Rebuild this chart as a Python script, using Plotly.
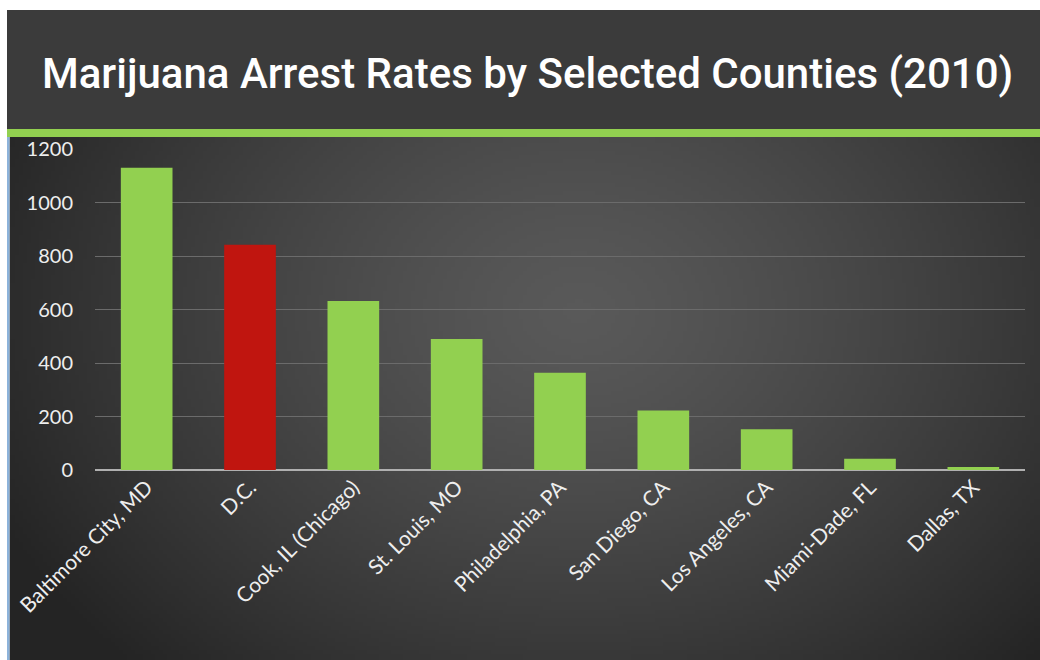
import base64, struct, zlib, math
import plotly.graph_objects as go

# ---- data ----
counties = ["Baltimore City, MD", "D.C.", "Cook, IL (Chicago)", "St. Louis, MO",
            "Philadelphia, PA", "San Diego, CA", "Los Angeles, CA", "Miami-Dade, FL", "Dallas, TX"]
arrest_rates = [1130, 842, 632, 490, 364, 222, 152, 42, 11]
highlight = "D.C."
y_ticks = [0, 200, 400, 600, 800, 1000, 1200]

GREEN = "#92d050"
RED = "#c0150f"
W, H = 1040, 660


def make_png(w, h):
    cx, cy = 0.55 * w, 0.33 * h
    rows = []
    for j in range(h):
        row = bytearray([0])
        for i in range(w):
            d = math.sqrt(((i - cx) / (0.62 * w)) ** 2 + ((j - cy) / (0.95 * h)) ** 2)
            d = min(d, 1.0)
            v = int(round(89 - (89 - 36) * d ** 1.3))
            row += bytes([v, v, v])
        rows.append(bytes(row))
    raw = b"".join(rows)

    def chunk(t, data):
        c = struct.pack(">I", len(data)) + t + data
        return c + struct.pack(">I", zlib.crc32(t + data) & 0xffffffff)

    png = b"\x89PNG\r\n\x1a\n" + chunk(b"IHDR", struct.pack(">IIBBBBB", w, h, 8, 2, 0, 0, 0))
    png += chunk(b"IDAT", zlib.compress(raw, 9)) + chunk(b"IEND", b"")
    return "data:image/png;base64," + base64.b64encode(png).decode()


bg = make_png(258, 131)

colors = [RED if c == highlight else GREEN for c in counties]

fig = go.Figure(go.Bar(x=counties, y=arrest_rates, marker=dict(color=colors, line=dict(width=0)),
                       width=0.5))

# pixel -> paper coordinate helpers
px = lambda v: v / W
py = lambda v: 1 - v / H

fig.update_layout(
    width=W, height=H,
    margin=dict(l=0, r=0, t=0, b=0),
    paper_bgcolor="white",
    plot_bgcolor="rgba(0,0,0,0)",
    showlegend=False,
    xaxis=dict(domain=[px(95), px(1025)], automargin=False, showgrid=False,
               tickangle=-45, tickfont=dict(family="Lato", size=21, color="#eeeeee"),
               showline=False, ticks=""),
    yaxis=dict(domain=[py(470), py(149)], automargin=False, range=[0, 1200],
               tickvals=y_ticks, showgrid=True, gridcolor="#6b6b6b", gridwidth=1,
               zeroline=True, zerolinecolor="#b0b0b0", zerolinewidth=2,
               tickfont=dict(family="Lato", size=20, color="#eeeeee"),
               ticklabelstandoff=21, showline=False, ticks=""),
    images=[dict(source=bg, xref="paper", yref="paper", x=px(9.5), y=py(137),
                 sizex=1 - px(9.5), sizey=py(137), xanchor="left", yanchor="top",
                 sizing="stretch", layer="below")],
    shapes=[
        dict(type="rect", xref="paper", yref="paper", x0=px(7), x1=1, y0=py(129), y1=py(10),
             fillcolor="#3b3b3b", line=dict(width=0), layer="below"),
        dict(type="rect", xref="paper", yref="paper", x0=px(7), x1=1, y0=py(137), y1=py(129),
             fillcolor=GREEN, line=dict(width=0), layer="below"),
        dict(type="rect", xref="paper", yref="paper", x0=px(7), x1=px(9.5), y0=0, y1=py(137),
             fillcolor="#8db3da", line=dict(width=0), layer="below"),
    ],
    annotations=[dict(text="Marijuana Arrest Rates by Selected Counties (2010)",
                      xref="paper", yref="paper", x=px(527), y=py(73), xanchor="center",
                      yanchor="middle", showarrow=False,
                      font=dict(family="Roboto", size=42, weight=500, color="white"))],
)

fig.write_html("out.html", config={"displayModeBar": False},
               post_script="document.body.style.margin='0';document.body.style.overflow='hidden';"
                           "document.documentElement.style.overflow='hidden';")
